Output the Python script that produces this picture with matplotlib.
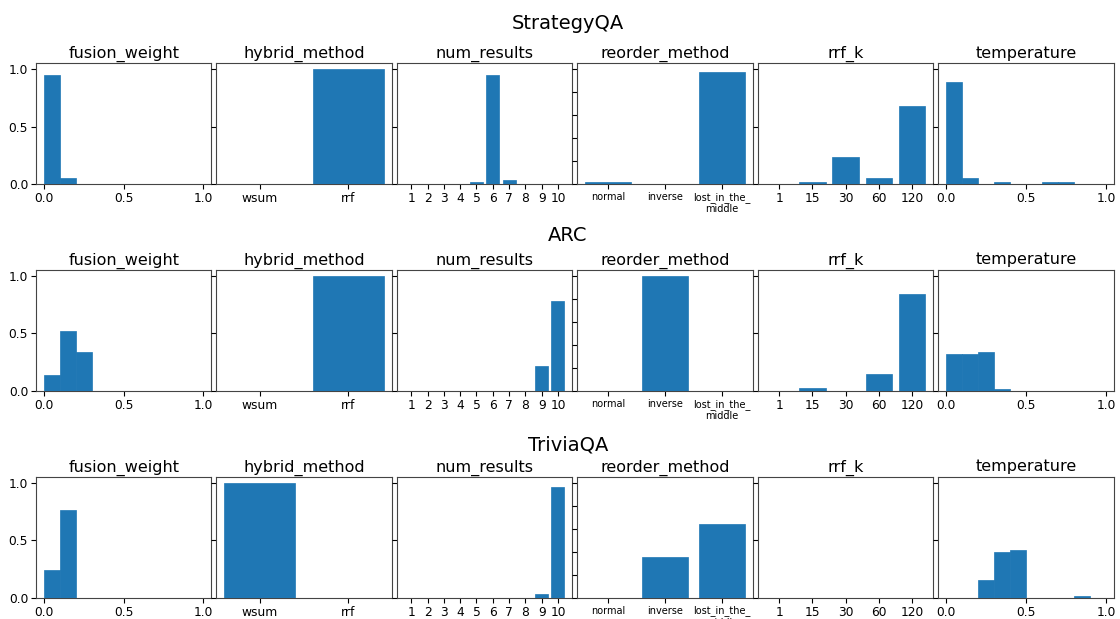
import numpy as np
import matplotlib
matplotlib.use("Agg")
import matplotlib.pyplot as plt

datasets = ["StrategyQA", "ARC", "TriviaQA"]
params = ["fusion_weight", "hybrid_method", "num_results", "reorder_method", "rrf_k", "temperature"]

# histogram bins for the continuous params (0..1, 10 bins)
bin_edges = np.linspace(0, 1, 11)

fusion_weight = {
    "StrategyQA": [0.943, 0.055, 0, 0, 0, 0, 0, 0, 0, 0],
    "ARC":        [0.14, 0.52, 0.34, 0, 0, 0, 0, 0, 0, 0],
    "TriviaQA":   [0.24, 0.76, 0, 0, 0, 0, 0, 0, 0, 0],
}
temperature = {
    "StrategyQA": [0.882, 0.055, 0, 0.02, 0, 0, 0.02, 0.02, 0, 0],
    "ARC":        [0.32, 0.32, 0.34, 0.02, 0, 0, 0, 0, 0, 0],
    "TriviaQA":   [0, 0, 0.159, 0.402, 0.419, 0, 0, 0, 0.02, 0],
}

hybrid_labels = ["wsum", "rrf"]
hybrid_method = {
    "StrategyQA": [0, 1.0],
    "ARC":        [0, 1.0],
    "TriviaQA":   [1.0, 0],
}

num_labels = ["1", "2", "3", "4", "5", "6", "7", "8", "9", "10"]
num_results = {
    "StrategyQA": [0, 0, 0, 0, 0.02, 0.943, 0.037, 0, 0, 0],
    "ARC":        [0, 0, 0, 0, 0, 0, 0, 0, 0.22, 0.78],
    "TriviaQA":   [0, 0, 0, 0, 0, 0, 0, 0, 0.038, 0.962],
}

reorder_labels = ["normal", "inverse", "lost_in_the_\nmiddle"]
reorder_method = {
    "StrategyQA": [0.02, 0, 0.977],
    "ARC":        [0, 1.0, 0],
    "TriviaQA":   [0, 0.358, 0.645],
}

rrf_labels = ["1", "15", "30", "60", "120"]
rrf_k = {
    "StrategyQA": [0, 0.02, 0.236, 0.055, 0.675],
    "ARC":        [0, 0.023, 0, 0.144, 0.842],
    "TriviaQA":   [0, 0, 0, 0, 0],
}

blue = "#1f77b4"
tick_fs = 8.8
title_fs = 11.5

fig, axs = plt.subplots(3, 6, figsize=(11.2, 6.19), dpi=100)
fig.subplots_adjust(left=0.032, right=0.9946, top=0.898, bottom=0.034,
                    wspace=0.028, hspace=0.71)

row_y = [0.953, 0.611, 0.272]

for r, ds in enumerate(datasets):
    fig.text(0.507, row_y[r], ds, ha="center", va="baseline", fontsize=14)
    for c, p in enumerate(params):
        ax = axs[r, c]
        if p in ("fusion_weight", "temperature"):
            vals = fusion_weight[ds] if p == "fusion_weight" else temperature[ds]
            centers = (bin_edges[:-1] + bin_edges[1:]) / 2
            ax.hist(centers, bins=bin_edges, weights=vals, color=blue,
                    edgecolor=blue, linewidth=0.5, zorder=3)
            ax.set_xticks([0.0, 0.5, 1.0])
            ax.set_xticklabels(["0.0", "0.5", "1.0"])
        else:
            if p == "hybrid_method":
                labels, vals = hybrid_labels, hybrid_method[ds]
            elif p == "num_results":
                labels, vals = num_labels, num_results[ds]
            elif p == "reorder_method":
                labels, vals = reorder_labels, reorder_method[ds]
            else:
                labels, vals = rrf_labels, rrf_k[ds]
            x = np.arange(len(labels))
            ax.bar(x, vals, width=0.8, color=blue, edgecolor=blue,
                   linewidth=0.5, zorder=3)
            ax.set_xticks(x)
            ax.set_xticklabels(labels)
        ax.set_ylim(0, 1.05)
        if p == "reorder_method":
            ax.set_yticks(np.arange(0, 1.01, 0.2))
        else:
            ax.set_yticks([0.0, 0.5, 1.0])
        if c == 0:
            ax.set_yticklabels(["0.0", "0.5", "1.0"])
        else:
            ax.set_yticklabels([])
        ax.tick_params(labelsize=tick_fs, pad=2)
        if p == "reorder_method":
            ax.tick_params(axis="x", labelsize=7, pad=2)
        for s in ax.spines.values():
            s.set_color("#444444")
        ax.set_title(p, fontsize=title_fs, pad=4)

fig.savefig("out.png", dpi=100)
